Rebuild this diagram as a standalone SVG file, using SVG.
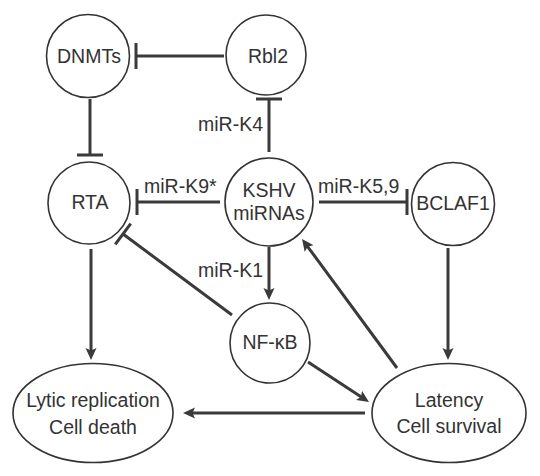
<svg xmlns="http://www.w3.org/2000/svg" width="540" height="476" viewBox="0 0 540 476">
<style>
.node{fill:#fff;stroke:#333;stroke-width:1.6}
.lbl{font-family:"Liberation Sans",Arial,sans-serif;font-size:19.5px;fill:#333;text-anchor:middle}
.elbl{font-family:"Liberation Sans",Arial,sans-serif;font-size:19.5px;fill:#333}
.edge{stroke:#3a3a3a;stroke-width:3;fill:none}
</style>
<defs>
<marker id="arrow" markerUnits="userSpaceOnUse" viewBox="0 0 14 12" markerWidth="14" markerHeight="12" refX="6" refY="6" orient="auto">
<path d="M0,0.5 L12,6 L0,11.5 L2.5,6 Z" fill="#3a3a3a"/>
</marker>
<marker id="bar" markerUnits="userSpaceOnUse" viewBox="0 0 6 30" markerWidth="6" markerHeight="30" refX="3" refY="15" orient="auto">
<path d="M3,2 V28" stroke="#3a3a3a" stroke-width="3"/>
</marker>
</defs>
<g id="connectors">
<line class="edge" x1="224" y1="56" x2="136" y2="56" marker-end="url(#bar)"/>
<line class="edge" x1="90" y1="99" x2="90" y2="155" marker-end="url(#bar)"/>
<line class="edge" x1="269" y1="152" x2="269" y2="99" marker-end="url(#bar)"/>
<line class="edge" x1="220" y1="202" x2="137" y2="202" marker-end="url(#bar)"/>
<line class="edge" x1="319" y1="202" x2="407" y2="202" marker-end="url(#bar)"/>
<line class="edge" x1="232" y1="315" x2="123" y2="234" marker-end="url(#bar)"/>
<line class="edge" x1="91" y1="249" x2="91" y2="354" marker-end="url(#arrow)"/>
<line class="edge" x1="448" y1="248" x2="448" y2="354" marker-end="url(#arrow)"/>
<line class="edge" x1="269" y1="247" x2="269" y2="294" marker-end="url(#arrow)"/>
<line class="edge" x1="308" y1="362" x2="364" y2="398.7" marker-end="url(#arrow)"/>
<line class="edge" x1="397" y1="368" x2="305.6" y2="243.8" marker-end="url(#arrow)"/>
<line class="edge" x1="365" y1="413" x2="189" y2="413" marker-end="url(#arrow)"/>
<text class="elbl" x="263" y="131" text-anchor="end">miR-K4</text>
<text class="elbl" x="144" y="193">miR-K9*</text>
<text class="elbl" x="318" y="193">miR-K5,9</text>
<text class="elbl" x="263" y="277" text-anchor="end">miR-K1</text>
</g>
<g id="DNMTs"><circle class="node" cx="88" cy="56" r="41.5"/><text class="lbl" x="89" y="63">DNMTs</text></g>
<g id="Rbl2"><circle class="node" cx="266" cy="55" r="40"/><text class="lbl" x="268" y="63">Rbl2</text></g>
<g id="RTA"><circle class="node" cx="89" cy="203" r="41"/><text class="lbl" x="90" y="209">RTA</text></g>
<g id="KSHV"><circle class="node" cx="269" cy="202" r="44"/><text class="lbl" x="269" y="197">KSHV</text><text class="lbl" x="269" y="220">miRNAs</text></g>
<g id="BCLAF1"><circle class="node" cx="453" cy="204" r="41.5"/><text class="lbl" x="453" y="210">BCLAF1</text></g>
<g id="NFkB"><circle class="node" cx="270" cy="343" r="40"/><text class="lbl" x="270" y="349">NF-κB</text></g>
<g id="Lytic"><ellipse class="node" cx="93" cy="413" rx="80" ry="49.5"/><text class="lbl" x="93" y="407">Lytic replication</text><text class="lbl" x="93" y="434">Cell death</text></g>
<g id="Latency"><ellipse class="node" cx="449" cy="413" rx="77" ry="49.5"/><text class="lbl" x="449" y="407">Latency</text><text class="lbl" x="449" y="433">Cell survival</text></g>
</svg>
